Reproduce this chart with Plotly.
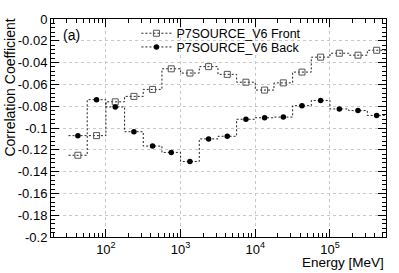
import numpy as np
import plotly.graph_objects as go

# ---- data ----
bin_edges_log10 = [1.5 + 0.25 * i for i in range(18)]  # energy bin edges, log10(MeV)
front = [-0.125, -0.107, -0.076, -0.071, -0.0646, -0.0457, -0.0496, -0.0437, -0.0508,
         -0.058, -0.0652, -0.0586, -0.0487, -0.035, -0.0314, -0.0332, -0.0287]
back = [-0.107, -0.074, -0.0807, -0.1034, -0.1166, -0.1224, -0.1307, -0.110, -0.1076,
        -0.092, -0.0906, -0.090, -0.0795, -0.0747, -0.0825, -0.084, -0.0885]
series_names = ["P7SOURCE_V6 Front", "P7SOURCE_V6 Back"]
ytick_vals = [0, -0.02, -0.04, -0.06, -0.08, -0.1, -0.12, -0.14, -0.16, -0.18, -0.2]
ytick_text = ["0", "-0.02", "-0.04", "-0.06", "-0.08", "-0.1", "-0.12", "-0.14", "-0.16", "-0.18", "-0.2"]
xtick_exps = [2, 3, 4, 5]

edges = [10 ** e for e in bin_edges_log10]
centers = [10 ** ((a + b) / 2) for a, b in zip(bin_edges_log10[:-1], bin_edges_log10[1:])]

FONT = "Liberation Sans, Arial, sans-serif"
LINE = dict(color="#222222", width=1, dash="2px,2px")

styles = [
    dict(symbol="square-open", size=6, color="#555555", line=dict(width=1, color="#555555")),
    dict(symbol="circle", size=5.5, color="black"),
]
legends = ["legend", "legend2"]

fig = go.Figure()
for name, vals, mk, lg in zip(series_names, [front, back], styles, legends):
    fig.add_trace(go.Scatter(x=edges, y=vals + [vals[-1]], mode="lines", line=dict(shape="hv", **LINE),
                             showlegend=False, hoverinfo="skip"))
    fig.add_trace(go.Scatter(x=centers, y=vals, mode="markers", marker=mk, showlegend=False))
    fig.add_trace(go.Scatter(x=[None], y=[None], mode="lines+markers", name=name,
                             line=LINE, marker=mk, legend=lg))

minor_x = [m * 10 ** d for d in range(1, 6) for m in range(2, 10)]

fig.update_layout(
    width=399, height=273, autosize=False,
    margin=dict(l=51, r=12, t=14, b=36),
    paper_bgcolor="white", plot_bgcolor="white",
    font=dict(family=FONT, size=13, color="black"),
    legend=dict(x=0.255, y=0.933, xanchor="left", yanchor="middle", bgcolor="rgba(0,0,0,0)",
                font=dict(size=12.5), itemwidth=30),
    legend2=dict(x=0.255, y=0.870, xanchor="left", yanchor="middle", bgcolor="rgba(0,0,0,0)",
                 font=dict(size=12.5), itemwidth=30),
    xaxis=dict(type="log", range=[1.265, 5.75],
               tickvals=[10 ** e for e in xtick_exps],
               ticktext=[f"10<sup>{e}</sup>" for e in xtick_exps],
               ticks="inside", ticklen=8, tickcolor="black",
               showline=True, linecolor="black", linewidth=1, mirror="allticks",
               showgrid=True, gridcolor="#c8c8c8", griddash="3px,3px", gridwidth=1,
               zeroline=False,
               minor=dict(tickvals=minor_x, ticks="inside", ticklen=4, tickcolor="black", showgrid=False)),
    yaxis=dict(range=[-0.2, 0], tickvals=ytick_vals, ticktext=ytick_text,
               ticks="inside", ticklen=8, tickcolor="black",
               showline=True, linecolor="black", linewidth=1, mirror="allticks",
               showgrid=True, gridcolor="#c8c8c8", griddash="3px,3px", gridwidth=1,
               zeroline=False,
               minor=dict(dtick=0.004, ticks="inside", ticklen=4, tickcolor="black", showgrid=False)),
    annotations=[
        dict(text="(a)", xref="paper", yref="paper", x=0.029, y=0.925, xanchor="left", yanchor="middle",
             showarrow=False, font=dict(size=14)),
        dict(text="Energy [MeV]", xref="paper", yref="paper", x=1.0, y=-0.118, xanchor="right", yanchor="middle",
             showarrow=False, font=dict(size=13.5)),
        dict(text="Correlation Coefficient", xref="paper", yref="paper", x=-0.122, y=0.686,
             xanchor="center", yanchor="middle", textangle=-90, showarrow=False, font=dict(size=14)),
    ],
)

# remove the page's default body margin so the 399x273 figure fills the window exactly
fig.write_html("out.html", config={"displayModeBar": False},
               post_script="document.body.style.margin='0';document.body.style.overflow='hidden';")
